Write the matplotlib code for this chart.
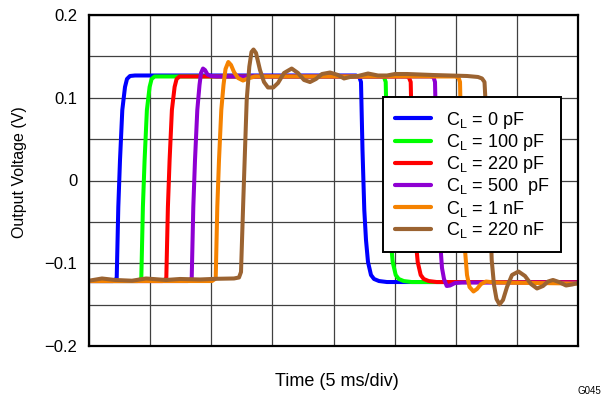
import matplotlib
matplotlib.use("Agg")
import matplotlib.pyplot as plt
from matplotlib.ticker import MultipleLocator, NullFormatter

plt.rcParams['font.family'] = ['Liberation Sans', 'DejaVu Sans']
plt.rcParams['axes.unicode_minus'] = True

# ---- data (time in ms, voltage in V) ----
blue_t = [0, 1.963, 2.266, 2.397, 2.536, 2.724, 2.945, 3.108, 3.354, 3.763, 12.0, 21.840,
          22.110, 22.249, 22.372, 22.519, 22.658, 22.822, 23.067, 23.313, 23.722, 24.376, 40]
blue_v = [-0.1215, -0.1215, -0.1184, -0.032, 0.0248, 0.0852, 0.113, 0.1227, 0.1263, 0.1269, 0.1269, 0.1269,
          0.1251, 0.1190, 0.0369, -0.0356, -0.0719, -0.0985, -0.1142, -0.1190, -0.1215, -0.1227, -0.1227]

green_t = [0, 3.975, 4.278, 4.409, 4.548, 4.736, 4.957, 5.121, 5.366, 5.775, 23.885,
           24.131, 24.270, 24.393, 24.540, 24.679, 24.843, 25.088, 25.333, 25.742, 26.397, 40]
green_v = [-0.1215, -0.1215, -0.1184, -0.032, 0.0248, 0.0852, 0.113, 0.1227, 0.1257, 0.1257, 0.1257,
           0.1251, 0.1190, 0.0369, -0.0356, -0.0719, -0.0985, -0.1142, -0.1190, -0.1215, -0.1227, -0.1227]

red_t = [0, 6.020, 6.323, 6.454, 6.593, 6.781, 7.002, 7.166, 7.411, 7.820, 25.906,
         26.151, 26.315, 26.438, 26.585, 26.724, 26.888, 27.133, 27.378, 27.787, 28.442, 40]
red_v = [-0.1215, -0.1215, -0.1184, -0.032, 0.0248, 0.0852, 0.113, 0.1227, 0.1257, 0.1257, 0.1257,
         0.1251, 0.1190, 0.0369, -0.0356, -0.0719, -0.0985, -0.1142, -0.1190, -0.1215, -0.1227, -0.1227]

purple_t = [0, 8.098, 8.401, 8.532, 8.671, 8.859, 9.039, 9.162, 9.325, 9.489, 9.693, 9.980, 10.389,
            27.894, 28.180, 28.303, 28.425, 28.573, 28.712, 28.875, 29.039, 29.260, 29.530, 29.939, 30.511, 40]
purple_v = [-0.1215, -0.1215, -0.1184, -0.032, 0.0248, 0.0852, 0.1154, 0.1299, 0.1353, 0.1335, 0.1281, 0.1263, 0.1257,
            0.1257, 0.1251, 0.1190, 0.0369, -0.0356, -0.0719, -0.1057, -0.1190, -0.1275, -0.1269, -0.1239, -0.1233, -0.1233]

orange_t = [0, 10.061, 10.364, 10.495, 10.634, 10.822, 11.002, 11.166, 11.395, 11.616, 11.861, 12.188, 12.597, 13.006, 13.579,
            29.939, 30.225, 30.348, 30.470, 30.593, 30.757, 30.920, 31.125, 31.452, 31.738, 32.065, 32.474, 33.211, 40]
orange_v = [-0.1215, -0.1215, -0.1184, -0.032, 0.0248, 0.0852, 0.1154, 0.1347, 0.1432, 0.1396, 0.1311, 0.1239, 0.1208, 0.1233, 0.1257,
            0.1257, 0.1245, 0.1190, 0.0369, -0.0236, -0.0840, -0.1142, -0.1287, -0.1341, -0.1311, -0.1251, -0.1221, -0.1233, -0.1245]

brown_t = [0, 1.063, 2.127, 3.517, 4.663, 6.299, 7.444, 9.080, 10.389, 11.861, 12.270, 12.434,
           12.622, 12.761, 12.900, 13.113, 13.292, 13.456, 13.661, 13.988, 14.315, 14.642, 15.076, 15.460,
           15.951, 16.581, 17.096, 17.587, 18.078, 18.569, 19.059, 19.714, 20.368, 20.859, 21.350, 22.004,
           22.822, 23.640, 24.376, 25.031, 26.012, 27.076, 28.139, 29.530, 30.920, 31.820, 32.147, 32.352,
           32.474, 32.638, 32.802, 32.941, 33.129, 33.333, 33.579, 33.865, 34.192, 34.601, 35.133, 35.665,
           36.155, 36.646, 37.137, 37.546, 37.955, 38.446, 39.018, 39.509, 40]
brown_v = [-0.1211, -0.1184, -0.1202, -0.1211, -0.1184, -0.1202, -0.1190, -0.1196, -0.1188, -0.1184, -0.1172, -0.1106,
           -0.0236, 0.0369, 0.0973, 0.1375, 0.1553, 0.1583, 0.1541, 0.1335, 0.1190, 0.1124, 0.1124, 0.1178,
           0.1299, 0.1353, 0.1299, 0.1215, 0.1190, 0.1227, 0.1287, 0.1305, 0.1275, 0.1233, 0.1251, 0.1263,
           0.1293, 0.1269, 0.1269, 0.1287, 0.1287, 0.1281, 0.1275, 0.1269, 0.1263, 0.1251, 0.1233, 0.1190,
           0.0852, 0.0248, -0.0356, -0.0961, -0.1263, -0.1432, -0.1498, -0.1444, -0.1287, -0.1142, -0.1100, -0.1154,
           -0.1251, -0.1305, -0.1275, -0.1221, -0.1202, -0.1227, -0.1269, -0.1257, -0.1239]

series_labels = [r'$\mathregular{C_L}$ = 0 pF', r'$\mathregular{C_L}$ = 100 pF', r'$\mathregular{C_L}$ = 220 pF',
                 r'$\mathregular{C_L}$ = 500  pF', r'$\mathregular{C_L}$ = 1 nF', r'$\mathregular{C_L}$ = 220 nF']
series_colors = ['#0000FF', '#00FF00', '#FF0000', '#8E00D2', '#F58200', '#9B6331']
series_t = [blue_t, green_t, red_t, purple_t, orange_t, brown_t]
series_v = [blue_v, green_v, red_v, purple_v, orange_v, brown_v]

yticks = [-0.2, -0.1, 0, 0.1, 0.2]
ytick_labels = ['\u22120.2', '\u22120.1', '0', '0.1', '0.2']

fig = plt.figure(figsize=(6.01, 3.96), dpi=100)
ax = fig.add_axes([89/601, 1-346/396, 489/601, 331/396])

for t, v, c, lab in zip(series_t, series_v, series_colors, series_labels):
    ax.plot(t, v, color=c, lw=2.9, label=lab, solid_joinstyle='round', solid_capstyle='round')

ax.set_xlim(0, 40)
ax.set_ylim(-0.2, 0.2)
ax.xaxis.set_major_locator(MultipleLocator(5))
ax.xaxis.set_major_formatter(NullFormatter())
ax.set_yticks(yticks)
ax.set_yticklabels(ytick_labels)
ax.yaxis.set_minor_locator(MultipleLocator(0.05))
ax.grid(True, which='both', color='#404040', lw=0.9)
ax.set_axisbelow(True)
ax.tick_params(axis='both', which='both', length=0)
ax.tick_params(axis='y', labelsize=12, pad=8.5)
for s in ax.spines.values():
    s.set_linewidth(1.6)
    s.set_color('black')

fig.text(19.3/601, 1-171.7/396, 'Output Voltage (V)', rotation=90, ha='center', va='center', fontsize=11.5)
fig.text(336.7/601, 1-382/396, 'Time (5 ms/div)', ha='center', va='center', fontsize=13)
fig.text(577/601, 0.0, 'G045', ha='left', va='bottom', fontsize=7)

leg = ax.legend(loc='upper left', bbox_to_anchor=((382.7-89)/489, (346-97.3)/331), borderaxespad=0,
                fontsize=13, handlelength=2.0, handletextpad=0.8, labelspacing=0.07, borderpad=0.68,
                frameon=True, fancybox=False, framealpha=1, edgecolor='black')
leg.get_frame().set_linewidth(1.4)
for h in leg.get_lines():
    h.set_linewidth(3.0)

fig.savefig('out.png', dpi=100)
